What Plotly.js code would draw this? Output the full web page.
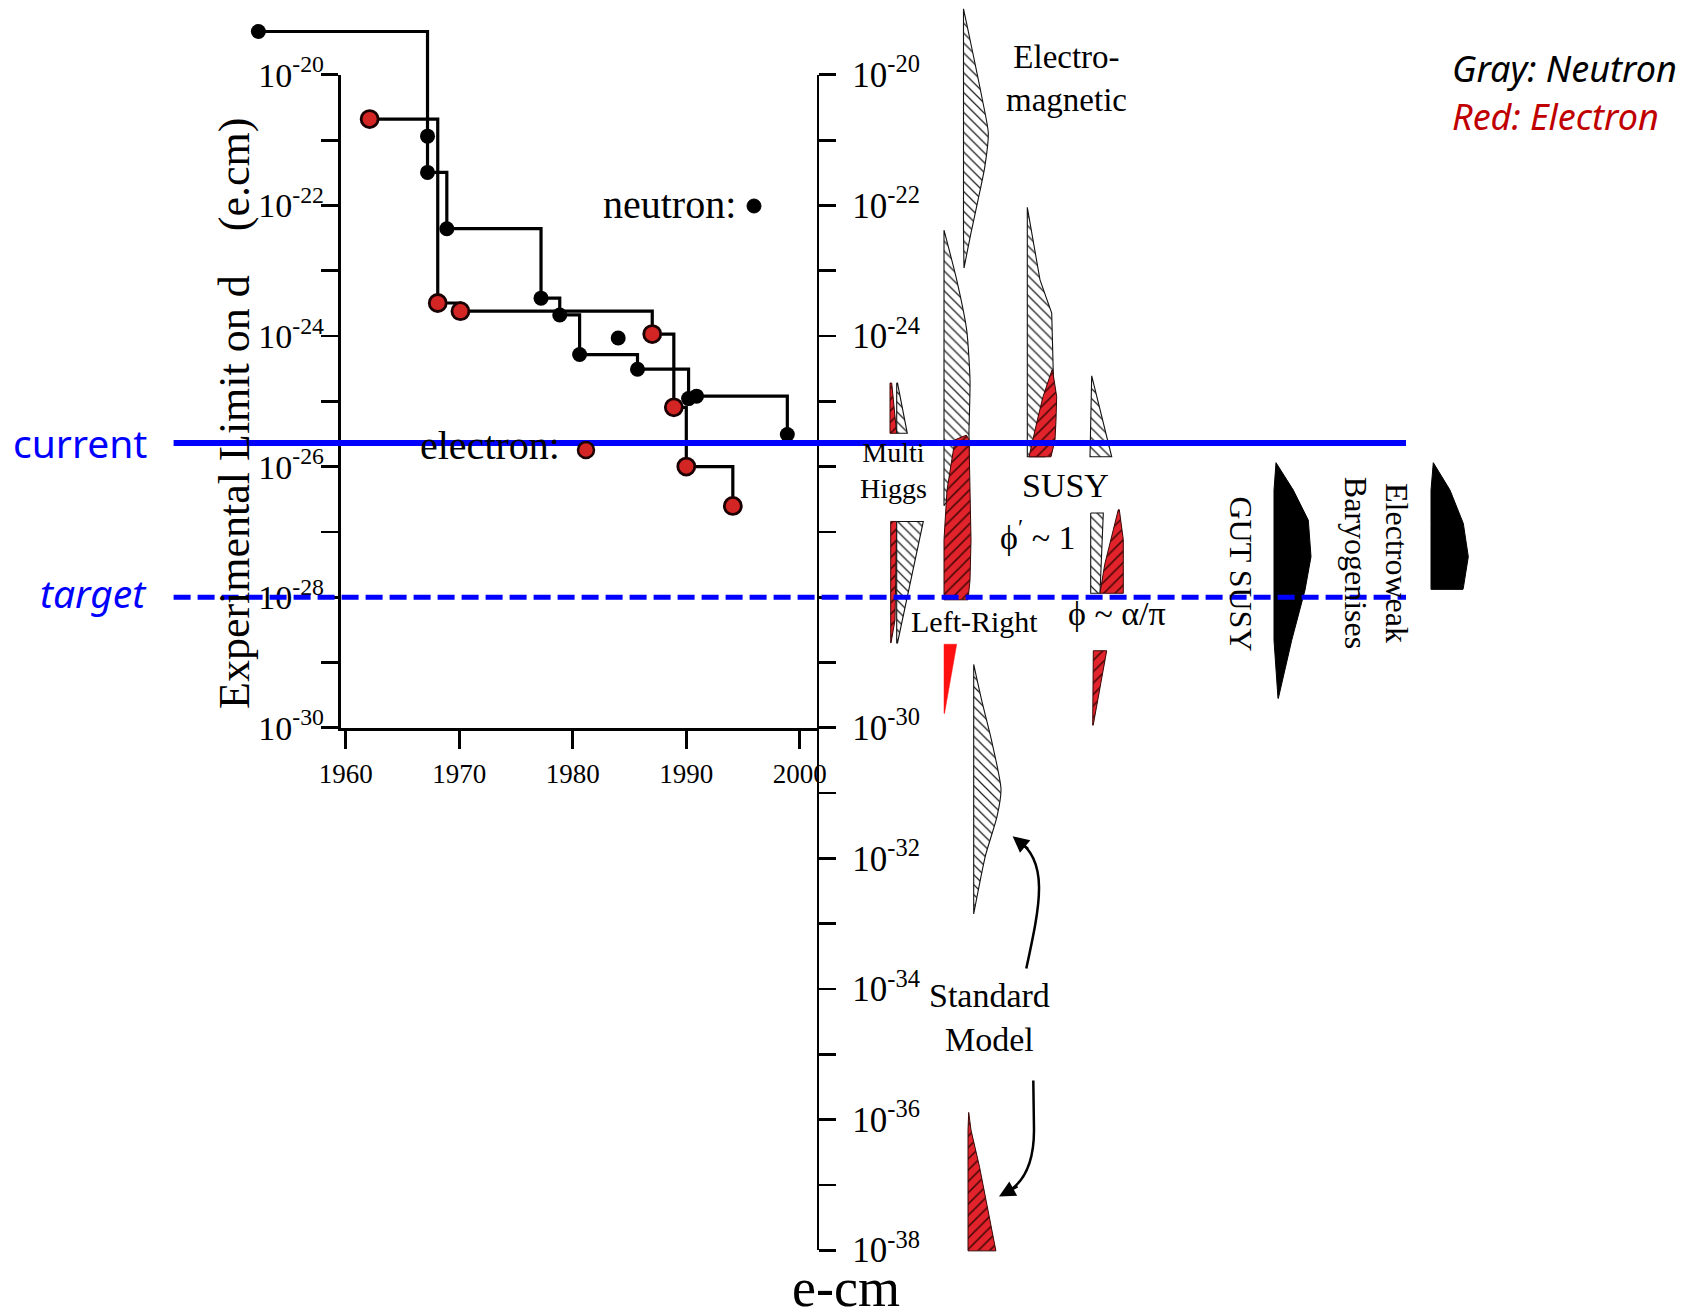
<!DOCTYPE html>
<html>
<head>
<meta charset="utf-8">
<script src="https://cdn.plot.ly/plotly-3.0.1.min.js"></script>
<style>html,body{margin:0;padding:0;background:#fff;}#chart{width:1701px;height:1314px;}</style>
</head>
<body>
<div id="chart"></div>
<script>
// ---------------- DATA ----------------
// Neutron EDM experimental limits (e.cm)
const neutronYear  = [1952.3, 1967.2, 1967.2, 1968.9, 1977.2, 1978.85, 1980.6, 1985.7, 1990.2, 1990.9, 1998.9];
const neutronLimit = [4.6e-20, 1.15e-21, 3.2e-22, 4.4e-23, 3.8e-24, 2.1e-24, 5.2e-25, 3.1e-25, 1.1e-25, 1.2e-25, 3.1e-26];
const neutronExtraYear  = [1984.0];
const neutronExtraLimit = [9.3e-25];
// Electron EDM experimental limits (e.cm)
const electronYear  = [1962.1, 1968.1, 1970.1, 1987.0, 1988.9, 1990.0, 1994.1];
const electronLimit = [2.1e-21, 3.2e-24, 2.4e-24, 1.07e-24, 8.1e-26, 1.0e-26, 2.5e-27];
// Reference lines
const currentLimit = 2.3e-26;
const targetLimit  = 1e-28;
// Axis ticks
const yearTicks = [1960, 1970, 1980, 1990, 2000];
const leftExponents  = [-20, -22, -24, -26, -28, -30];
const rightExponents = [-20, -22, -24, -26, -28, -30, -32, -34, -36, -38];
const rightHiddenLabels = [-26, -28];   // covered by the model labels in the original

// Theory prediction bands: log10(d) and left/right edge profiles
const emNeutronLog   = [-18.99, -19.62, -20.39, -20.89, -21.41, -21.92, -22.42, -22.96];
const emNeutronL     = [0, 0, 0, 0, 0, 0, 0, 0.5];
const emNeutronR     = [0, 8.7, 19, 24.8, 21.3, 14.5, 7.5, 0.5];

const lrNeutronLog   = [-22.38, -23.14, -23.91, -24.67, -25.44, -26.0, -26.6];
const lrNeutronL     = [0, 0, 0, 0, 0, 0, 0];
const lrNeutronR     = [0, 12.7, 22.7, 26, 25, 24, 0];
const lrElectronLog  = [-25.52, -25.59, -26.36, -27.12, -27.74, -28.04];
const lrElectronL    = [22, 11, 3, 0, 0, 0];
const lrElectronR    = [22.5, 25, 26, 27, 26, 24];
const lrElectron2Log = [-28.72, -29.78];
const lrElectron2L   = [0, 0];
const lrElectron2R   = [12.7, 0.5];

const mhElectronLog  = [-24.72, -25.49];
const mhElectronL    = [0, 0];
const mhElectronR    = [1.7, 6.7];
const mhNeutronLog   = [-24.72, -25.49];
const mhNeutronL     = [6.7, 6.7];
const mhNeutronR     = [7.5, 17.3];
const mhElectron2Log = [-26.84, -28.35, -28.70];
const mhElectron2L   = [0.7, 0.7, 0.7];
const mhElectron2R   = [6.7, 5, 1];
const mhNeutron2Log  = [-26.84, -28.70];
const mhNeutron2L    = [6.7, 6.7];
const mhNeutron2R    = [33.3, 7.5];

const susyNeutronLog  = [-22.03, -23.14, -23.65, -24.37, -24.98, -25.44, -25.85];
const susyNeutronL    = [0, 0, 0, 0, 0, 0, 0];
const susyNeutronR    = [0, 12.7, 24.4, 25.4, 26.7, 22.7, 17.7];
const susyElectronLog = [-24.52, -24.93, -25.29, -25.59, -25.85];
const susyElectronL   = [24.7, 15.7, 10, 5.7, 1.7];
const susyElectronR   = [25.2, 29.4, 28.7, 27.7, 23.7];

const phiNeutronLog   = [-24.61, -25.85];
const phiNeutronL     = [1.7, 0];
const phiNeutronR     = [1.7, 21.7];
const phiNeutron2Log  = [-26.71, -27.94];
const phiNeutron2L    = [0, 0];
const phiNeutron2R    = [12.6, 9.3];
const phiElectronLog  = [-26.66, -27.12, -27.5, -27.94];
const phiElectronL    = [27.6, 20, 14, 9.3];
const phiElectronR    = [28.6, 32.6, 32.6, 32.6];
const phiElectron2Log = [-28.82, -29.96];
const phiElectron2L   = [0.6, 0];
const phiElectron2R   = [14, 0.5];

const smNeutronLog   = [-29.03, -29.57, -30.17, -30.94, -31.36, -31.96, -32.85];
const smNeutronL     = [0, 0, 0, 0, 0, 0, 0];
const smNeutronR     = [0, 7.8, 17.5, 27.3, 23.3, 11.7, 0];
const smElectronLog  = [-35.89, -36.16, -36.73, -37.32, -38.01];
const smElectronL    = [0.7, 0, 0, 0, 0];
const smElectronR    = [0.7, 3, 11.6, 19.4, 27.9];

const gutLog = [-25.94, -26.36, -26.82, -27.38, -27.89, -28.66, -29.55];
const gutL   = [2, 0, 0, 0, 0, 0, 4];
const gutR   = [2, 19.3, 34.3, 37, 31, 17.7, 4.3];
const ewLog  = [-25.94, -26.36, -26.87, -27.38, -27.86, -27.88];
const ewL    = [2.3, 0, 0, 0, 0, 0];
const ewR    = [2.3, 19, 32.3, 37.3, 32.3, 32];

// ---------------- LAYOUT GEOMETRY ----------------
const W = 1701, H = 1314;
const Y20 = 74.8, PPD = 65.3;          // px of 1e-20, px per decade
const X1960 = 345.8, PPY = 11.35;      // px of 1960, px per year
const LEFT_AXIS_X = 340.6, RIGHT_AXIS_X = 816.5;
const yPx = e => Y20 + (-20 - e) * PPD;
const fx = px => px / W;
const fy = py => 1 - py / H;
const yearAt = px => 1960 + (px - X1960) / PPY;

// theory column positions (page units on the hidden column axis)
const COL = {em: 963.5, lr: 944, mh: 890, susy: 1027.3, phiTop: 1090, phiMid: 1090.7, phiLow: 1092.7,
             smN: 973.7, smE: 968, gut: 1274, ew: 1431};

const SERIF = 'Liberation Serif, Times New Roman, serif';
const SANS = 'Noto Sans, Open Sans, sans-serif';
const RED = '#e3232b';

const sup = e => '10<sup>' + e + '</sup>';

function blob(base, logd, left, right, style, smooth) {
  const xs = [], ys = [];
  for (let i = 0; i < logd.length; i++) { xs.push(base + left[i]); ys.push(Math.pow(10, logd[i])); }
  for (let i = logd.length - 1; i >= 0; i--) { xs.push(base + right[i]); ys.push(Math.pow(10, logd[i])); }
  xs.push(xs[0]); ys.push(ys[0]);
  const t = {x: xs, y: ys, xaxis: 'x4', yaxis: 'y3', mode: 'lines', fill: 'toself',
             hoverinfo: 'skip', showlegend: false, line: {color: '#111', width: 1.1}};
  if (style === 'gray') {
    t.fillcolor = 'white';
    t.fillpattern = {shape: '\\', fgcolor: '#222', bgcolor: 'white', size: 7, solidity: 0.18};
  } else if (style === 'red') {
    t.fillcolor = RED;
    t.line = {color: '#3a0606', width: 1};
    t.fillpattern = {shape: '/', fgcolor: '#4a0808', bgcolor: RED, size: 8, solidity: 0.2};
  } else if (style === 'solidred') {
    t.fillcolor = '#ff1010';
    t.line = {color: '#ff1010', width: 0.5};
  } else {
    t.fillcolor = 'black';
    t.line = {color: 'black', width: 1};
  }
  if (smooth) { t.line.shape = 'spline'; t.line.smoothing = 0.6; }
  return t;
}

const traces = [
  // placeholders so the visible axes are drawn
  {x: [], y: [], xaxis: 'x', yaxis: 'y', type: 'scatter', showlegend: false},
  {x: [], y: [], xaxis: 'x2', yaxis: 'y2', type: 'scatter', showlegend: false},
  // theory bands
  blob(COL.em, emNeutronLog, emNeutronL, emNeutronR, 'gray', true),
  blob(COL.lr, lrNeutronLog, lrNeutronL, lrNeutronR, 'gray', true),
  blob(COL.lr, lrElectronLog, lrElectronL, lrElectronR, 'red'),
  blob(COL.lr, lrElectron2Log, lrElectron2L, lrElectron2R, 'solidred'),
  blob(COL.mh, mhElectronLog, mhElectronL, mhElectronR, 'red'),
  blob(COL.mh, mhNeutronLog, mhNeutronL, mhNeutronR, 'gray'),
  blob(COL.mh, mhElectron2Log, mhElectron2L, mhElectron2R, 'red'),
  blob(COL.mh, mhNeutron2Log, mhNeutron2L, mhNeutron2R, 'gray'),
  blob(COL.susy, susyNeutronLog, susyNeutronL, susyNeutronR, 'gray'),
  blob(COL.susy, susyElectronLog, susyElectronL, susyElectronR, 'red'),
  blob(COL.phiTop, phiNeutronLog, phiNeutronL, phiNeutronR, 'gray'),
  blob(COL.phiMid, phiNeutron2Log, phiNeutron2L, phiNeutron2R, 'gray'),
  blob(COL.phiMid, phiElectronLog, phiElectronL, phiElectronR, 'red'),
  blob(COL.phiLow, phiElectron2Log, phiElectron2L, phiElectron2R, 'red'),
  blob(COL.smN, smNeutronLog, smNeutronL, smNeutronR, 'gray', true),
  blob(COL.smE, smElectronLog, smElectronL, smElectronR, 'red'),
  blob(COL.gut, gutLog, gutL, gutR, 'black'),
  blob(COL.ew, ewLog, ewL, ewR, 'black'),
  // experimental limits
  {x: electronYear, y: electronLimit, xaxis: 'x3', yaxis: 'y3', mode: 'lines', line: {shape: 'hv', color: 'black', width: 3.2},
   hoverinfo: 'skip', showlegend: false},
  {x: neutronYear, y: neutronLimit, xaxis: 'x3', yaxis: 'y3', mode: 'lines+markers', line: {shape: 'hv', color: 'black', width: 3.2},
   marker: {color: 'black', size: 15}, cliponaxis: false, showlegend: false, name: 'neutron'},
  {x: neutronExtraYear, y: neutronExtraLimit, xaxis: 'x3', yaxis: 'y3', mode: 'markers',
   marker: {color: 'black', size: 15}, cliponaxis: false, showlegend: false},
  {x: electronYear, y: electronLimit, xaxis: 'x3', yaxis: 'y3', mode: 'markers',
   marker: {color: '#d42525', size: 17, line: {color: '#1a0000', width: 2.8}}, cliponaxis: false, showlegend: false, name: 'electron'}
];

const axisCommon = {showgrid: false, zeroline: false, fixedrange: true, automargin: false,
  showline: true, linecolor: 'black', linewidth: 2.8, ticks: 'outside', tickcolor: 'black', tickwidth: 2.8};

const layout = {
  width: W, height: H, margin: {l: 0, r: 0, t: 0, b: 0, pad: 0},
  paper_bgcolor: 'white', plot_bgcolor: 'rgba(0,0,0,0)', showlegend: false,
  xaxis: Object.assign({}, axisCommon, {
    domain: [fx(LEFT_AXIS_X), fx(RIGHT_AXIS_X)], range: [yearAt(LEFT_AXIS_X), yearAt(RIGHT_AXIS_X)],
    anchor: 'y', tickmode: 'array', tickvals: yearTicks, ticktext: yearTicks.map(String), ticklen: 18,
    ticklabelstandoff: 2, tickfont: {family: SERIF, size: 27, color: 'black'}}),
  yaxis: Object.assign({}, axisCommon, {
    domain: [fy(yPx(-30)), fy(yPx(-20))], type: 'log', range: [-30, -20], anchor: 'x',
    tickmode: 'array', tickvals: leftExponents.map(e => Math.pow(10, e)), ticktext: leftExponents.map(sup),
    ticklen: 17, ticklabelstandoff: -10, tickfont: {family: SERIF, size: 34, color: 'black'},
    minor: {tickmode: 'array', tickvals: [-21, -23, -25, -27, -29].map(e => Math.pow(10, e)),
            ticks: 'outside', ticklen: 17, tickwidth: 2.8, tickcolor: 'black', showgrid: false}}),
  xaxis2: {domain: [0.3, fx(RIGHT_AXIS_X)], range: [0, 1], visible: false, anchor: 'y2', fixedrange: true},
  yaxis2: Object.assign({}, axisCommon, {
    domain: [fy(yPx(-38)), fy(yPx(-20))], type: 'log', range: [-38, -20], anchor: 'x2', side: 'right',
    tickmode: 'array', tickvals: rightExponents.map(e => Math.pow(10, e)),
    ticktext: rightExponents.map(e => rightHiddenLabels.indexOf(e) >= 0 ? '' : sup(e)),
    ticklen: 17, ticklabelstandoff: 9, tickfont: {family: SERIF, size: 35, color: 'black'},
    minor: {tickmode: 'array', tickvals: [-21, -23, -25, -27, -29, -31, -33, -35, -37].map(e => Math.pow(10, e)),
            ticks: 'outside', ticklen: 17, tickwidth: 2.8, tickcolor: 'black', showgrid: false}}),
  xaxis3: {domain: [0, 1], range: [yearAt(0), yearAt(W)], visible: false, anchor: 'y3', fixedrange: true},
  yaxis3: {domain: [0, 1], type: 'log', range: [-20 - (H - Y20) / PPD, -20 + Y20 / PPD], visible: false, anchor: 'x3', fixedrange: true},
  xaxis4: {domain: [0, 1], range: [0, W], visible: false, anchor: 'y3', overlaying: 'x3', fixedrange: true},
  shapes: [
    {type: 'line', xref: 'paper', yref: 'y3', x0: fx(173.6), x1: fx(1406), y0: currentLimit, y1: currentLimit,
     line: {color: '#0000ff', width: 6}, layer: 'above'},
    {type: 'line', xref: 'paper', yref: 'y3', x0: fx(173.6), x1: fx(1406), y0: targetLimit, y1: targetLimit,
     line: {color: '#0000ff', width: 5, dash: '17px,7px'}, layer: 'above'},
    // legend keys
    {type: 'circle', xref: 'paper', yref: 'paper', x0: fx(747), x1: fx(761), y0: fy(213), y1: fy(199),
     fillcolor: 'black', line: {color: 'black', width: 1}},
    {type: 'circle', xref: 'paper', yref: 'paper', x0: fx(578), x1: fx(594), y0: fy(458), y1: fy(442),
     fillcolor: '#d42525', line: {color: '#1a0000', width: 2.5}},
    // curved arrows for "Standard Model"
    {type: 'path', xref: 'paper', yref: 'paper',
     path: 'M ' + fx(1026.3) + ',' + fy(968.5) + ' C ' + fx(1040) + ',' + fy(905) + ' ' + fx(1050) + ',' + fy(860) + ' ' + fx(1016) + ',' + fy(839),
     line: {color: 'black', width: 2.5}},
    {type: 'path', xref: 'paper', yref: 'paper',
     path: 'M ' + fx(1033.3) + ',' + fy(1080.5) + ' L ' + fx(1034) + ',' + fy(1130) + ' C ' + fx(1034) + ',' + fy(1165) + ' ' + fx(1022) + ',' + fy(1186) + ' ' + fx(1002) + ',' + fy(1195),
     line: {color: 'black', width: 2.5}}
  ],
  annotations: []
};

function txt(text, px, py, size, opts) {
  return Object.assign({text: text, x: fx(px), y: fy(py), xref: 'paper', yref: 'paper', showarrow: false,
    xanchor: 'center', yanchor: 'middle', font: {family: SERIF, size: size, color: 'black'}}, opts || {});
}
layout.annotations.push(
  txt('Experimental Limit on d\u00a0\u00a0\u00a0\u00a0(e.cm)', 235, 414, 44, {textangle: -90}),
  txt('neutron:', 669, 204, 40),
  txt('electron:', 490, 446, 40),
  txt('Electro-<br>magnetic', 1066, 78.6, 33),
  txt('Multi<br>Higgs', 893, 470.7, 28),
  txt('SUSY', 1065, 486, 34),
  txt('ϕ<sup>′</sup> ~ 1', 1038, 535, 34),
  txt('Left-Right', 974, 621.6, 30),
  txt('ϕ ~ α/π', 1117, 614, 34),
  txt('GUT SUSY', 1241, 573.5, 32, {textangle: 90}),
  txt('Electroweak<br>Baryogenises', 1376.7, 562.5, 32, {textangle: 90}),
  txt('Standard<br>Model', 989, 1017, 34),
  txt('e-cm', 846, 1288, 54, {borderpad: 0}),
  txt('current', 149, 442, 39, {xanchor: 'right', font: {family: SANS, size: 39, color: '#0000ff'}}),
  txt('<i>target</i>', 149, 592, 39, {xanchor: 'right', font: {family: SANS, size: 39, color: '#0000ff'}}),
  txt('<i>Gray: Neutron</i>', 1450, 68, 36, {xanchor: 'left', font: {family: SANS, size: 36, color: 'black'}}),
  txt('<i>Red: Electron</i>', 1450, 116, 36, {xanchor: 'left', font: {family: SANS, size: 36, color: '#c00000'}}),
  // arrowheads
  {text: '', x: fx(1012.6), y: fy(836.2), xref: 'paper', yref: 'paper', showarrow: true, ax: 17, ay: 14,
   arrowhead: 2, arrowsize: 1.3, arrowwidth: 2.5, arrowcolor: 'black', standoff: 0},
  {text: '', x: fx(999), y: fy(1196.5), xref: 'paper', yref: 'paper', showarrow: true, ax: 20, ay: -11,
   arrowhead: 2, arrowsize: 1.3, arrowwidth: 2.5, arrowcolor: 'black', standoff: 0}
);

Plotly.newPlot('chart', traces, layout, {displayModeBar: false, staticPlot: true});
</script>
</body>
</html>
